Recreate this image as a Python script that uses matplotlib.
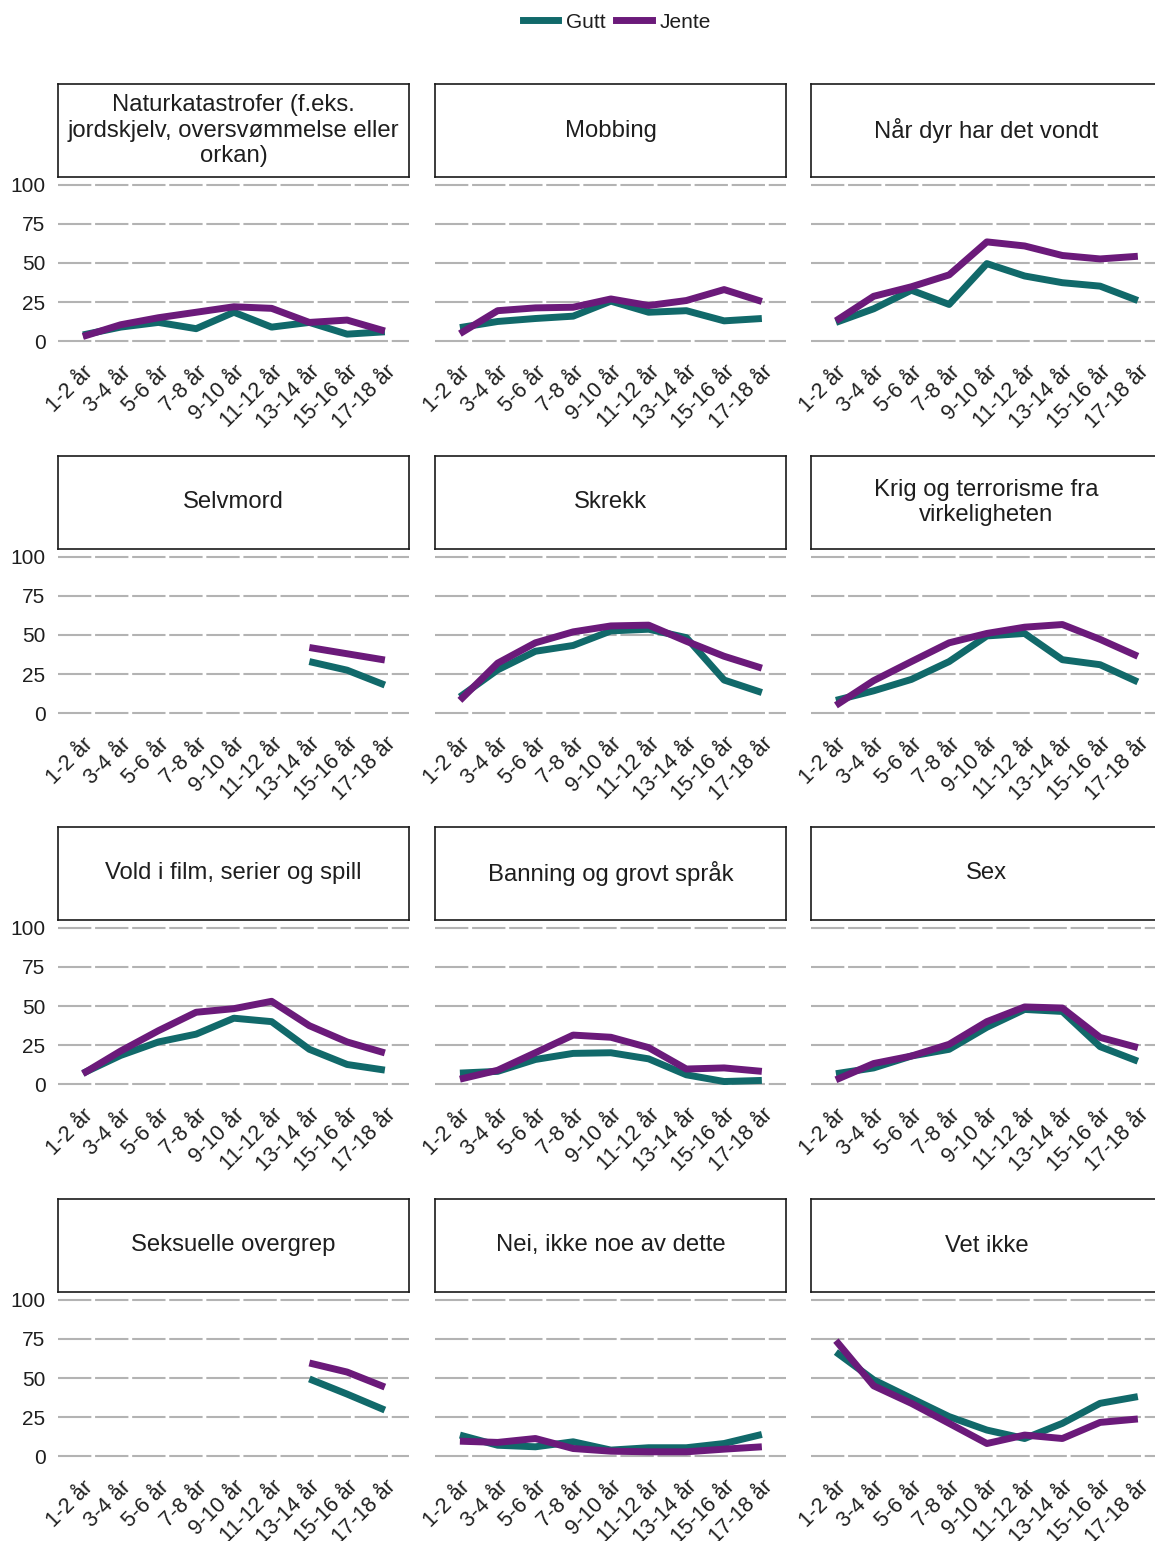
import numpy as np
import matplotlib
matplotlib.use("Agg")
import matplotlib.pyplot as plt
from matplotlib.lines import Line2D
from matplotlib.transforms import ScaledTranslation

plt.rcParams['font.family'] = ['Liberation Sans', 'DejaVu Sans']

# age groups on the x axis
ages = ["1-2 år", "3-4 år", "5-6 år", "7-8 år", "9-10 år",
        "11-12 år", "13-14 år", "15-16 år", "17-18 år"]

titles = ["Naturkatastrofer (f.eks.\njordskjelv, oversvømmelse eller\norkan)",
          "Mobbing", "Når dyr har det vondt",
          "Selvmord", "Skrekk", "Krig og terrorisme fra\nvirkeligheten",
          "Vold i film, serier og spill", "Banning og grovt språk", "Sex",
          "Seksuelle overgrep", "Nei, ikke noe av dette", "Vet ikke"]

nan = np.nan
# Gutt (boys)
gutt_natur = [4, 9, 12, 8, 18.5, 9, 12, 4.5, 6]
gutt_mobbing = [8.7, 12.6, 14.5, 16, 25.6, 18.5, 19.5, 13, 14.5]
gutt_dyr = [12, 20.7, 32.6, 23.5, 49.6, 41.7, 37.4, 35.2, 26]
gutt_selvmord = [nan, nan, nan, nan, nan, nan, 33, 27.5, 18]
gutt_skrekk = [10.4, 27.7, 39.6, 43.3, 52.6, 53.7, 48.3, 21.2, 13.2]
gutt_krig = [8.2, 14.3, 21.6, 33, 49.4, 51, 34.2, 31, 20]
gutt_vold = [7, 18.4, 27, 32, 42.2, 40, 22.3, 12.6, 9]
gutt_banning = [7.1, 8.2, 15.8, 19.7, 20.1, 16.2, 6, 1.7, 2.4]
gutt_sex = [6.7, 10.4, 18, 22.3, 36.4, 47.8, 46.5, 24, 14.7]
gutt_overgrep = [nan, nan, nan, nan, nan, nan, 49.4, 39.7, 29.5]
gutt_nei = [13.5, 7, 6, 9.2, 3.9, 5.4, 5.4, 8.1, 13.9]
gutt_vetikke = [66.6, 48.8, 37, 25.3, 16.7, 11.3, 21, 33.8, 38.1]

# Jente (girls)
jente_natur = [3, 10.5, 15, 18.5, 22, 21, 12, 13.5, 6.5]
jente_mobbing = [4.8, 19.5, 21.3, 21.7, 27, 22.8, 26, 33, 25.4]
jente_dyr = [13, 28.7, 34.8, 42.4, 63.5, 60.9, 54.8, 52.6, 54.3]
jente_selvmord = [nan, nan, nan, nan, nan, nan, 42, 38, 34]
jente_skrekk = [8.2, 32, 45, 52, 55.8, 56.3, 46, 36.4, 28.8]
jente_krig = [5, 20.8, 33, 45, 51, 55, 56.7, 47.2, 36.4]
jente_vold = [6.7, 21.2, 34.2, 46, 48.3, 53, 37.4, 27, 20]
jente_banning = [3.2, 8.9, 20.1, 31.4, 30, 23.4, 9.7, 10.4, 8.2]
jente_sex = [2.8, 13.2, 18, 25.5, 40, 49.4, 48.7, 29.9, 23.4]
jente_overgrep = [nan, nan, nan, nan, nan, nan, 59.6, 53.8, 44.2]
jente_nei = [9.6, 8.8, 11.3, 4.9, 3.2, 2.8, 2.8, 4.5, 6]
jente_vetikke = [73.9, 45, 33.8, 21, 8.1, 13.5, 11.3, 21.6, 23.8]

gutt = [gutt_natur, gutt_mobbing, gutt_dyr, gutt_selvmord, gutt_skrekk, gutt_krig,
        gutt_vold, gutt_banning, gutt_sex, gutt_overgrep, gutt_nei, gutt_vetikke]
jente = [jente_natur, jente_mobbing, jente_dyr, jente_selvmord, jente_skrekk, jente_krig,
         jente_vold, jente_banning, jente_sex, jente_overgrep, jente_nei, jente_vetikke]

TEAL = '#11696a'
PURPLE = '#6b1a7a'
TXT = '#1e1e1e'
FS = 15

W, H = 1155, 1541
fig = plt.figure(figsize=(W / 100, H / 100), dpi=100)

col_left = [58, 435, 811]
col_w = 351
row_top = [177, 549, 920, 1292]
ax_h = 172
strip_h = 93

x = np.arange(len(ages))
for i, title in enumerate(titles):
    r, c = divmod(i, 3)
    left = col_left[c] / W
    bottom = 1 - (row_top[r] + ax_h) / H
    ax = fig.add_axes([left, bottom, col_w / W, ax_h / H])
    ax.set_xlim(-0.66, 8.64)
    ax.set_ylim(-5, 105)
    ax.set_yticks([0, 25, 50, 75, 100])
    ax.grid(axis='y', color='#b3b3b3', lw=1.5, linestyle=(0, (16, 1.8)))
    ax.grid(axis='x', visible=False)
    ax.set_axisbelow(True)
    for s in ax.spines.values():
        s.set_visible(False)
    ax.plot(x, gutt[i], color=TEAL, lw=5, solid_joinstyle='round', solid_capstyle='butt')
    ax.plot(x, jente[i], color=PURPLE, lw=5, solid_joinstyle='round', solid_capstyle='butt')
    ax.set_xticks(x)
    ax.set_xticklabels(ages, rotation=45, ha='right', va='top', rotation_mode='anchor',
                       fontsize=15.5, color=TXT)
    offset = ScaledTranslation(7 / 100, 0, fig.dpi_scale_trans)
    for lab in ax.get_xticklabels():
        lab.set_transform(lab.get_transform() + offset)
    ax.tick_params(axis='both', length=0, labelcolor=TXT)
    ax.tick_params(axis='y', labelsize=FS, pad=9)
    ax.tick_params(axis='x', pad=9)
    if c != 0:
        ax.tick_params(labelleft=False)

    # strip box with facet title
    sax = fig.add_axes([left, 1 - row_top[r] / H, col_w / W, strip_h / H])
    sax.set_xticks([])
    sax.set_yticks([])
    for s in sax.spines.values():
        s.set_color('#1a1a1a')
        s.set_linewidth(1.2)
    sax.text(0.5, 0.5, title, ha='center', va='center', fontsize=17.2, color=TXT,
             linespacing=1.2, transform=sax.transAxes)

handles = [Line2D([], [], color=TEAL, lw=5), Line2D([], [], color=PURPLE, lw=5)]
fig.legend(handles, ["Gutt", "Jente"], loc='center', bbox_to_anchor=(617 / W, 1 - 22 / H),
           ncol=2, frameon=False, fontsize=FS, handlelength=1.7, handletextpad=0.4,
           columnspacing=0.5, labelcolor=TXT)

fig.savefig("out.png", dpi=100, facecolor='white')
